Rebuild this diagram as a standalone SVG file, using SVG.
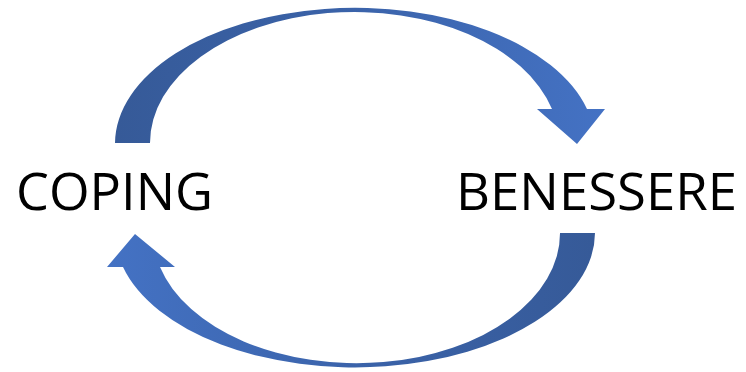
<svg xmlns="http://www.w3.org/2000/svg" width="746" height="372" viewBox="0 0 746 372">
  <style>
    .label { font-family: "Open Sans", "Liberation Sans", sans-serif; font-size: 52px; fill: #000; }
  </style>
  <defs>
    <linearGradient id="gTop" x1="115" y1="0" x2="605" y2="0" gradientUnits="userSpaceOnUse">
      <stop offset="0" stop-color="#365A98"/>
      <stop offset="0.45" stop-color="#3A62A8"/>
      <stop offset="1" stop-color="#4472C4"/>
    </linearGradient>
    <linearGradient id="gBot" x1="595" y1="0" x2="107" y2="0" gradientUnits="userSpaceOnUse">
      <stop offset="0" stop-color="#365A98"/>
      <stop offset="0.45" stop-color="#3A62A8"/>
      <stop offset="1" stop-color="#4472C4"/>
    </linearGradient>
  </defs>
  <rect width="746" height="372" fill="#fff"/>
  <g id="connectors">
    <path id="arrow-coping-benessere" fill="url(#gTop)" d="M115,143 A240,136 0 0 1 587,109 L605,109 L577,144 L537,109 L552,109 A204.5,131 0 0 0 150,143 Z"/>
    <path id="arrow-benessere-coping" fill="url(#gBot)" d="M595,233 A240,135 0 0 1 123,267 L107,267 L135,234 L175,267 L160,267 A203.5,130 0 0 0 560,233 Z"/>
  </g>
  <g id="node-coping">
    <text class="label" x="16" y="210" textLength="197" lengthAdjust="spacingAndGlyphs">COPING</text>
  </g>
  <g id="node-benessere">
    <text class="label" x="456" y="210" textLength="281" lengthAdjust="spacingAndGlyphs">BENESSERE</text>
  </g>
</svg>
